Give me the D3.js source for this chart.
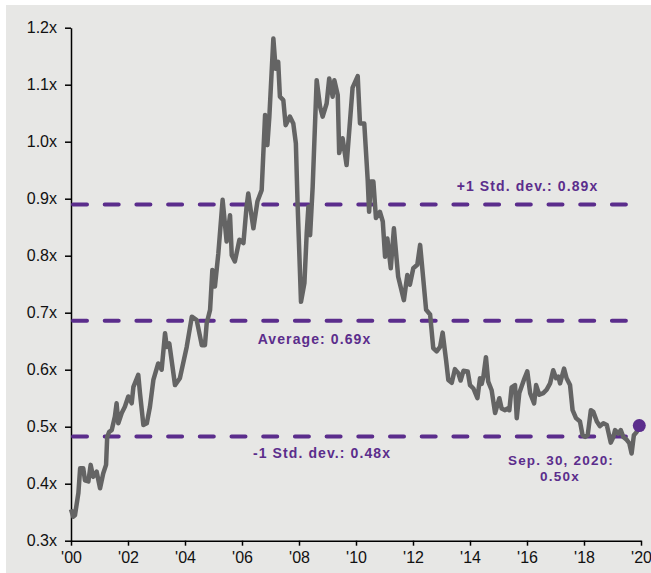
<!DOCTYPE html>
<html><head><meta charset="utf-8">
<script src="https://cdn.jsdelivr.net/npm/d3@7"></script>
<style>
html,body{margin:0;padding:0;background:#fff;}
svg{display:block;}
text{font-family:"Liberation Sans",Arial,sans-serif;}
</style></head>
<body>
<script>
// ---- data ----
const years = [2000.00,2000.08,2000.14,2000.26,2000.32,2000.43,2000.49,2000.61,2000.69,2000.78,2000.90,2001.02,2001.13,2001.23,2001.27,2001.34,2001.43,2001.54,2001.60,2001.66,2001.78,2001.89,2002.01,2002.13,2002.19,2002.36,2002.42,2002.54,2002.66,2002.77,2002.89,2003.06,2003.18,2003.30,2003.36,2003.45,2003.65,2003.82,2004.06,2004.24,2004.41,2004.59,2004.70,2004.76,2004.88,2004.96,2005.05,2005.17,2005.32,2005.46,2005.58,2005.64,2005.75,2005.91,2006.05,2006.16,2006.22,2006.40,2006.54,2006.69,2006.81,2006.89,2006.96,2007.10,2007.18,2007.27,2007.33,2007.45,2007.53,2007.68,2007.80,2007.89,2007.95,2008.07,2008.19,2008.27,2008.33,2008.39,2008.48,2008.62,2008.74,2008.83,2008.97,2009.06,2009.18,2009.24,2009.36,2009.41,2009.53,2009.67,2009.88,2010.06,2010.14,2010.29,2010.41,2010.46,2010.52,2010.61,2010.70,2010.84,2010.94,2011.02,2011.10,2011.22,2011.33,2011.48,2011.68,2011.80,2011.89,2012.01,2012.15,2012.25,2012.46,2012.60,2012.71,2012.83,2012.95,2013.04,2013.16,2013.24,2013.36,2013.47,2013.59,2013.67,2013.77,2013.92,2014.00,2014.12,2014.26,2014.35,2014.41,2014.47,2014.56,2014.64,2014.76,2014.88,2015.03,2015.11,2015.23,2015.31,2015.38,2015.46,2015.58,2015.64,2015.73,2015.89,2016.01,2016.11,2016.25,2016.32,2016.43,2016.57,2016.69,2016.81,2016.92,2017.02,2017.10,2017.16,2017.30,2017.39,2017.51,2017.60,2017.72,2017.86,2017.95,2018.04,2018.13,2018.24,2018.33,2018.45,2018.56,2018.68,2018.80,2018.94,2019.03,2019.09,2019.20,2019.29,2019.38,2019.50,2019.59,2019.67,2019.75,2019.85,2019.94];
const values = [0.355,0.342,0.345,0.384,0.427,0.427,0.406,0.404,0.433,0.412,0.421,0.392,0.418,0.433,0.482,0.491,0.494,0.518,0.541,0.506,0.524,0.535,0.553,0.541,0.570,0.591,0.559,0.503,0.506,0.535,0.582,0.611,0.600,0.664,0.640,0.646,0.573,0.585,0.640,0.693,0.687,0.643,0.643,0.681,0.705,0.775,0.746,0.804,0.898,0.825,0.871,0.801,0.790,0.828,0.822,0.886,0.909,0.848,0.895,0.915,1.047,0.994,1.044,1.181,1.128,1.140,1.079,1.073,1.029,1.044,1.032,0.997,0.892,0.719,0.752,0.839,0.886,0.836,0.921,1.108,1.061,1.044,1.067,1.111,1.079,1.108,1.082,0.980,1.006,0.959,1.095,1.115,1.032,1.032,0.933,0.877,0.930,0.930,0.866,0.877,0.860,0.798,0.830,0.778,0.848,0.763,0.722,0.766,0.749,0.778,0.784,0.819,0.705,0.697,0.638,0.632,0.640,0.665,0.617,0.582,0.577,0.601,0.594,0.581,0.598,0.597,0.573,0.567,0.550,0.585,0.575,0.588,0.622,0.579,0.564,0.524,0.550,0.532,0.529,0.532,0.529,0.569,0.573,0.515,0.559,0.582,0.597,0.559,0.541,0.573,0.556,0.559,0.565,0.576,0.599,0.585,0.588,0.576,0.602,0.585,0.573,0.529,0.515,0.509,0.485,0.482,0.485,0.529,0.526,0.509,0.501,0.506,0.503,0.472,0.482,0.494,0.488,0.494,0.482,0.477,0.471,0.453,0.485,0.491,0.502];
const refValues = [0.89, 0.686, 0.483];
const refLabels = ["+1 Std. dev.: 0.89x", "Average: 0.69x", "-1 Std. dev.: 0.48x"];
const yTicks = [0.3,0.4,0.5,0.6,0.7,0.8,0.9,1.0,1.1,1.2];
const xTicks = [2000,2002,2004,2006,2008,2010,2012,2014,2016,2018,2020];
const xTickLabels = ["'00","'02","'04","'06","'08","'10","'12","'14","'16","'18","'20"];
const lastLabel = ["Sep. 30, 2020:", "0.50x"];

// ---- layout ----
const W = 651, H = 573;
const purple = "#5b2d8c";
const svg = d3.select("body").append("svg").attr("width", W).attr("height", H);
svg.append("rect").attr("x",6).attr("y",5).attr("width",W-6).attr("height",H-5).attr("fill","#e7e7e5");

const x = d3.scaleLinear().domain([2000,2020]).range([71,641]);
const y = d3.scaleLinear().domain([0.3,1.2]).range([540.7,27.7]);

// axes
const yAxis = d3.axisLeft(y).tickValues(yTicks).tickSize(6).tickSizeOuter(0)
  .tickFormat(d => d3.format(".1f")(d) + "x");
const gy = svg.append("g").attr("transform","translate(71,0)").call(yAxis);
gy.select(".domain").attr("stroke","#000").attr("stroke-width",1.5);
gy.selectAll(".tick line").attr("stroke","#000").attr("stroke-width",1.5);
gy.selectAll(".tick text").attr("font-size",16).attr("fill","#111").attr("x",-14)
  .style("font-family","'Liberation Sans',Arial,sans-serif");

const xAxis = d3.axisBottom(x).tickValues(xTicks).tickSize(5).tickSizeOuter(0)
  .tickFormat((d,i) => xTickLabels[i]);
const gx = svg.append("g").attr("transform","translate(0,540.7)").call(xAxis);
gx.select(".domain").attr("stroke","#000").attr("stroke-width",1.5);
gx.selectAll(".tick line").attr("stroke","#000").attr("stroke-width",1.5);
gx.selectAll(".tick text").attr("font-size",16).attr("fill","#111").attr("y",11)
  .style("font-family","'Liberation Sans',Arial,sans-serif");

// reference lines
svg.selectAll("line.ref").data(refValues).enter().append("line")
  .attr("class","ref")
  .attr("x1", x(2000)+2).attr("x2", x(2019.88))
  .attr("y1", d => y(d)).attr("y2", d => y(d))
  .attr("stroke", purple).attr("stroke-width", 4)
  .attr("stroke-linecap","round").attr("stroke-dasharray","14,17.7");

// main line
const data = years.map((t,i) => ({t, v: values[i]}));
const line = d3.line().x(d => x(d.t)).y(d => y(d.v));
svg.append("path").datum(data).attr("d", line)
  .attr("fill","none").attr("stroke","#646464").attr("stroke-width",4.5)
  .attr("stroke-linejoin","round");

// last point dot
const last = data[data.length-1];
svg.append("circle").attr("cx", x(last.t)).attr("cy", y(last.v)).attr("r", 6.5).attr("fill", purple);

// labels
const labelPos = [{cx:527.5, dy:-13.5},{cx:314.5, dy:23.5},{cx:322, dy:21.5}];
svg.selectAll("text.ref").data(refValues).enter().append("text")
  .attr("class","ref")
  .attr("x",(d,i)=>labelPos[i].cx).attr("y",(d,i)=>y(d)+labelPos[i].dy)
  .attr("text-anchor","middle").attr("font-size",14).attr("font-weight","bold")
  .attr("fill",purple).attr("letter-spacing",1.1)
  .text((d,i)=>refLabels[i]);

svg.append("text").attr("x",561).attr("y",y(last.v)+39.5).attr("text-anchor","middle")
  .attr("font-size",13.5).attr("font-weight","bold").attr("fill",purple).attr("letter-spacing",1.2)
  .text(lastLabel[0]);
svg.append("text").attr("x",560).attr("y",y(last.v)+55.5).attr("text-anchor","middle")
  .attr("font-size",13.5).attr("font-weight","bold").attr("fill",purple).attr("letter-spacing",1.2)
  .text(lastLabel[1]);
</script>
</body></html>
